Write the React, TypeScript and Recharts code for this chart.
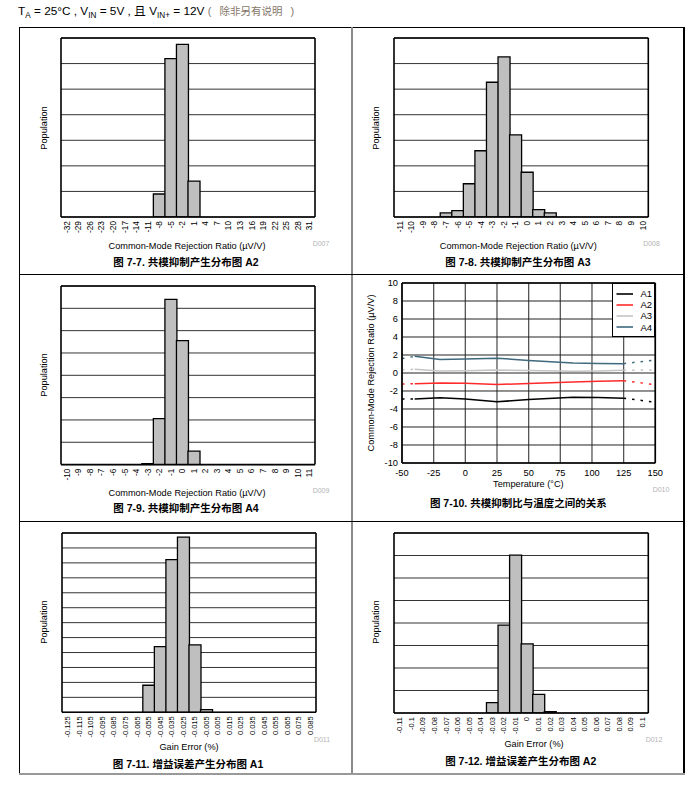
import React from 'react';
import {
  BarChart, Bar, XAxis, YAxis, CartesianGrid, ReferenceLine,
  LineChart, Line, Legend,
} from 'recharts';

const FONT = '"Liberation Sans", Arial, "Noto Sans CJK SC", sans-serif';

// ---------- Histogram data ----------
const cmrrA2Labels = ['-32','-29','-26','-23','-20','-17','-14','-11','-8','-5','-2','1','4','7','10','13','16','19','22','25','28','31'];
const cmrrA2Counts = [0,0,0,0,0,0,0,0,0.9,6.19,6.75,1.4,0,0,0,0,0,0,0,0,0,0];

const cmrrA3Labels = ['-11','-10','-9','-8','-7','-6','-5','-4','-3','-2','-1','0','1','2','3','4','5','6','7','8','9','10'];
const cmrrA3Counts = [0,0,0,0,0.16,0.25,1.3,2.59,5.27,6.26,3.21,1.75,0.29,0.16,0,0,0,0,0,0,0,0];

const cmrrA4Labels = ['-10','-9','-8','-7','-6','-5','-4','-3','-2','-1','0','1','2','3','4','5','6','7','8','9','10','11'];
const cmrrA4Counts = [0,0,0,0,0,0,0,0.04,2.06,7.4,5.55,0.6,0,0,0,0,0,0,0,0,0,0];

const gainA1Labels = ['-0.125','-0.115','-0.105','-0.095','-0.085','-0.075','-0.065','-0.055','-0.045','-0.035','-0.025','-0.015','-0.005','0.005','0.015','0.025','0.035','0.045','0.055','0.065','0.075','0.085'];
const gainA1Counts = [0,0,0,0,0,0,0,1.81,4.4,10.22,11.72,4.51,0.18,0,0,0,0,0,0,0,0,0];

const gainA2Labels = ['-0.11','-0.1','-0.09','-0.08','-0.07','-0.06','-0.05','-0.04','-0.03','-0.02','-0.01','0','0.01','0.02','0.03','0.04','0.05','0.06','0.07','0.08','0.09','0.1'];
const gainA2Counts = [0,0,0,0,0,0,0,0,0.46,3.91,7.02,3.07,0.83,0.06,0,0,0,0,0,0,0,0];

// ---------- CMRR vs temperature data ----------
const temps = [-50, -40, -20, 0, 25, 50, 85, 105, 125, 150];
const a1Solid = [null, -2.9, -2.75, -2.9, -3.2, -2.95, -2.7, -2.72, -2.8, null];
const a1Ext = [-2.9, -2.9, null, null, null, null, null, null, -2.8, -3.25];
const a2Solid = [null, -1.2, -1.1, -1.15, -1.28, -1.17, -1.0, -0.92, -0.85, null];
const a2Ext = [-1.22, -1.2, null, null, null, null, null, null, -0.85, -1.3];
const a3Solid = [null, 0.42, 0.22, 0.25, 0.32, 0.27, 0.2, 0.22, 0.3, null];
const a3Ext = [0.35, 0.42, null, null, null, null, null, null, 0.3, 0.35];
const a4Solid = [null, 1.85, 1.5, 1.55, 1.65, 1.4, 1.1, 1.06, 1.04, null];
const a4Ext = [1.6, 1.85, null, null, null, null, null, null, 1.04, 1.45];
const tempTicks = [-50, -25, 0, 25, 50, 75, 100, 125, 150];
const cmrrTicks = [-10, -8, -6, -4, -2, 0, 2, 4, 6, 8, 10];

const seriesNames = ['A1', 'A2', 'A3', 'A4'];
const seriesColors = ['#000000', '#ff2a2a', '#c4c4c4', '#40697d'];

// ---------- helpers ----------
type TxtProps = {
  x: number; y: number; size?: number; bold?: boolean; color?: string;
  rotate?: number; children: React.ReactNode;
};
function Txt({ x, y, size = 9.2, bold = false, color = '#000', rotate = 0, children }: TxtProps) {
  return (
    <div
      style={{
        position: 'absolute', left: x, top: y, fontSize: size, lineHeight: 1,
        fontWeight: bold ? 700 : 400, color, whiteSpace: 'nowrap',
        transform: `translate(-50%, -50%) rotate(${rotate}deg)`,
      }}
    >
      {children}
    </div>
  );
}

function Line1({ l, t, w, h, c }: { l: number; t: number; w: number; h: number; c: string }) {
  return <div style={{ position: 'absolute', left: l, top: t, width: w, height: h, background: c }} />;
}

const makeRotTick = (fs: number) => (props: any) => {
  const { x, y, payload } = props;
  return (
    <text
      x={x} y={y} transform={`rotate(-90 ${x} ${y})`}
      textAnchor="end" dominantBaseline="central" fontSize={fs} fill="#000"
    >
      {payload.value}
    </text>
  );
};

type HistProps = {
  L: number; T: number; R: number; B: number;
  labels: string[]; counts: number[]; yMax: number; tickFont: number;
};

function Histogram({ L, T, R, B, labels, counts, yMax, tickFont }: HistProps) {
  const mL = 10, mR = 10, mT = 10, mB = 45;
  const W = R - L, H = B - T;
  const width = mL + W + mR;
  const height = mT + 1 + H + 2 + mB;
  const n = labels.length;
  const data = labels.map((label, i) => ({ label, count: counts[i], pos: i + 0.5 }));
  const yTicks = Array.from({ length: yMax + 1 }, (_, i) => i);
  const xTicks = Array.from({ length: n / 2 + 1 }, (_, i) => i * 2);
  const tl = { stroke: '#000', strokeWidth: 1.2 };
  return (
    <div style={{ position: 'absolute', left: L - mL, top: T - mT - 1 }}>
      <BarChart
        width={width} height={height} data={data}
        margin={{ top: mT, right: mR, bottom: mB, left: mL }}
        barCategoryGap={0}
      >
        <XAxis
          xAxisId="top" orientation="top" type="number" dataKey="pos"
          domain={[0, n]} ticks={xTicks} interval={0} height={1}
          tick={false} tickSize={5} axisLine={false} tickLine={tl} allowDataOverflow
        />
        <XAxis
          xAxisId="num" orientation="bottom" type="number" dataKey="pos"
          domain={[0, n]} ticks={xTicks} interval={0} height={1}
          tick={false} tickSize={5} axisLine={false} tickLine={tl} allowDataOverflow
        />
        <XAxis
          dataKey="label" type="category" interval={0} height={1}
          tickSize={0} tickMargin={4} axisLine={false} tickLine={false}
          tick={makeRotTick(tickFont)}
        />
        <YAxis hide type="number" domain={[0, yMax]} ticks={yTicks} interval={0} allowDataOverflow />
        <CartesianGrid vertical={false} stroke="#333" strokeWidth={1} />
        <Bar dataKey="count" fill="#bfbfbf" stroke="#000" strokeWidth={1.3} isAnimationActive={false} />
        <ReferenceLine y={0} stroke="#000" strokeWidth={1.6} />
        <ReferenceLine y={yMax} stroke="#000" strokeWidth={1.6} />
        <ReferenceLine xAxisId="num" x={0} stroke="#000" strokeWidth={1.6} />
        <ReferenceLine xAxisId="num" x={n} stroke="#000" strokeWidth={1.6} />
      </BarChart>
    </div>
  );
}

function TempLegend(props: any) {
  const payload = (props.payload || []).filter((p: any) => p.type !== 'none');
  return (
    <div
      style={{
        width: 42.5, height: 53.5, boxSizing: 'border-box', border: '1.5px solid #000',
        background: '#fff', paddingTop: 4, fontSize: 9.5, lineHeight: '11.1px',
      }}
    >
      {payload.map((p: any) => (
        <div key={p.value} style={{ display: 'flex', alignItems: 'center', height: 11.1 }}>
          <svg width={27} height={4} style={{ display: 'block' }}>
            <line x1={3.5} y1={2} x2={20} y2={2} stroke={p.color} strokeWidth={1.6} />
          </svg>
          <span>{p.value}</span>
        </div>
      ))}
    </div>
  );
}

function TempChart() {
  const L = 401.7, T = 283.3, R = 655, B = 463.3;
  const yW = 30, xH = 20, m = 5, mR = 14;
  const W = R - L, H = B - T;
  const left = L - m - yW, top = T - m;
  const width = m + yW + W + mR, height = m + H + xH + m;
  const solids = [a1Solid, a2Solid, a3Solid, a4Solid];
  const exts = [a1Ext, a2Ext, a3Ext, a4Ext];
  const data = temps.map((t, i) => {
    const row: any = { t };
    seriesNames.forEach((nm, k) => {
      row[nm] = solids[k][i];
      row[nm + 'x'] = exts[k][i];
    });
    return row;
  });
  return (
    <div style={{ position: 'absolute', left, top }}>
      <LineChart width={width} height={height} data={data} margin={{ top: m, right: mR, bottom: m, left: m }}>
        <CartesianGrid horizontal={false} stroke="#555" strokeWidth={1.3} />
        <CartesianGrid vertical={false} stroke="#222" strokeWidth={1} />
        <XAxis
          dataKey="t" type="number" domain={[-50, 150]} ticks={tempTicks} interval={0}
          height={xH} tickSize={0} tickMargin={6} axisLine={false} tickLine={false}
          tick={{ fontSize: 9.3, fill: '#000' }} allowDataOverflow
        />
        <YAxis
          type="number" domain={[-10, 10]} ticks={cmrrTicks} interval={0}
          width={yW} tickSize={0} tickMargin={4} axisLine={false} tickLine={false}
          tick={{ fontSize: 9.3, fill: '#000' }} allowDataOverflow
        />
        {seriesNames.map((nm, k) => (
          <Line
            key={nm + 'x'} dataKey={nm + 'x'} stroke={seriesColors[k]} strokeWidth={1.5}
            strokeDasharray="2.5 6" dot={false} legendType="none" isAnimationActive={false}
          />
        ))}
        {seriesNames.map((nm, k) => (
          <Line
            key={nm} dataKey={nm} name={nm} stroke={seriesColors[k]} strokeWidth={1.5}
            dot={false} isAnimationActive={false}
          />
        ))}
        <ReferenceLine y={-10} stroke="#000" strokeWidth={1.6} />
        <ReferenceLine y={10} stroke="#000" strokeWidth={1.6} />
        <ReferenceLine x={-50} stroke="#000" strokeWidth={1.6} />
        <ReferenceLine x={150} stroke="#000" strokeWidth={1.6} />
        <Legend
          layout="vertical" align="center" verticalAlign="middle"
          wrapperStyle={{ left: 612.5 - left, top: T - top, width: 42.5, height: 53.5 }}
          content={TempLegend}
        />
      </LineChart>
    </div>
  );
}

const D = '#b4b4b4';
const sub = { fontSize: 8.2, position: 'relative' as const, top: 2.5 };

export default function App() {
  return (
    <div
      style={{
        position: 'absolute', left: 0, top: 0, width: 696, height: 791,
        fontFamily: FONT, color: '#000', background: '#fff', overflow: 'hidden',
      }}
    >
      {/* header */}
      <div style={{ position: 'absolute', left: 18, top: 4, fontSize: 11.8, lineHeight: '14px', whiteSpace: 'nowrap' }}>
        T<span style={sub}>A</span> = 25°C , V<span style={sub}>IN</span> = 5V , 且 V<span style={sub}>IN+</span> = 12V{' '}
        <span style={{ color: '#86776a', fontSize: 11 }}>
          (<span style={{ marginLeft: 8, marginRight: 8, fontSize: 10.5 }}>除非另有说明</span>)
        </span>
      </div>

      {/* frame */}
      <Line1 l={19} t={27.3} w={665.5} h={1} c="#000" />
      <Line1 l={19} t={27.3} w={1} h={747} c="#000" />
      <Line1 l={683.4} t={27.3} w={1.2} h={747} c="#000" />
      <Line1 l={351} t={27.3} w={2} h={747} c="#8a8a8a" />
      <Line1 l={19} t={273.5} w={665.5} h={1} c="#000" />
      <Line1 l={19} t={521.3} w={665.5} h={1} c="#000" />
      <Line1 l={19} t={773.3} w={666} h={2} c="#999" />

      {/* panel 1 */}
      <Histogram L={61.3} T={38.3} R={315.3} B={217.3} labels={cmrrA2Labels} counts={cmrrA2Counts} yMax={7} tickFont={8.3} />
      <Txt x={45} y={127.8} rotate={-90}>Population</Txt>
      <Txt x={187} y={247}>Common-Mode Rejection Ratio (µV/V)</Txt>
      <Txt x={321} y={243} size={7} color={D}>D007</Txt>
      <Txt x={186} y={262} size={10.5} bold>图 7-7. 共模抑制产生分布图 A2</Txt>

      {/* panel 2 */}
      <Histogram L={394} T={38.3} R={648.3} B={217.3} labels={cmrrA3Labels} counts={cmrrA3Counts} yMax={7} tickFont={8.3} />
      <Txt x={376.7} y={127.8} rotate={-90}>Population</Txt>
      <Txt x={518.3} y={247}>Common-Mode Rejection Ratio (µV/V)</Txt>
      <Txt x={651.5} y={242.7} size={7} color={D}>D008</Txt>
      <Txt x={518} y={262} size={10.5} bold>图 7-8. 共模抑制产生分布图 A3</Txt>

      {/* panel 3 */}
      <Histogram L={61.3} T={285.7} R={315.3} B={464.3} labels={cmrrA4Labels} counts={cmrrA4Counts} yMax={8} tickFont={8.3} />
      <Txt x={45} y={375} rotate={-90}>Population</Txt>
      <Txt x={187} y={494}>Common-Mode Rejection Ratio (µV/V)</Txt>
      <Txt x={321} y={490} size={7} color={D}>D009</Txt>
      <Txt x={186} y={508.3} size={10.5} bold>图 7-9. 共模抑制产生分布图 A4</Txt>

      {/* panel 4 */}
      <TempChart />
      <Txt x={372.3} y={373} rotate={-90}>Common-Mode Rejection Ratio (µV/V)</Txt>
      <Txt x={528.4} y={485}>Temperature (°C)</Txt>
      <Txt x={661} y={489} size={7} color={D}>D010</Txt>
      <Txt x={518.3} y={503.3} size={10.5} bold>图 7-10. 共模抑制比与温度之间的关系</Txt>

      {/* panel 5 */}
      <Histogram L={62} T={532.7} R={316} B={712} labels={gainA1Labels} counts={gainA1Counts} yMax={12} tickFont={7.5} />
      <Txt x={45} y={621.7} rotate={-90}>Population</Txt>
      <Txt x={189} y={747.7}>Gain Error (%)</Txt>
      <Txt x={322} y={739} size={7} color={D}>D011</Txt>
      <Txt x={188} y={764} size={10.5} bold>图 7-11. 增益误差产生分布图 A1</Txt>

      {/* panel 6 */}
      <Histogram L={394} T={532.7} R={648.3} B={712.7} labels={gainA2Labels} counts={gainA2Counts} yMax={8} tickFont={7.5} />
      <Txt x={376.7} y={621.7} rotate={-90}>Population</Txt>
      <Txt x={534} y={745}>Gain Error (%)</Txt>
      <Txt x={654} y={739} size={7} color={D}>D012</Txt>
      <Txt x={520.7} y={760.7} size={10.5} bold>图 7-12. 增益误差产生分布图 A2</Txt>
    </div>
  );
}
